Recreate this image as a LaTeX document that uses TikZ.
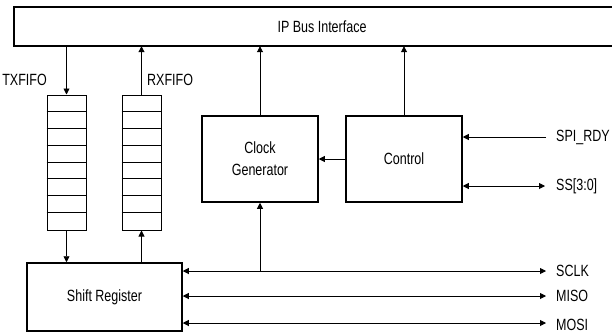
\documentclass[tikz,border=0pt]{standalone}
\usepackage{fontspec}
\setmainfont{Liberation Sans}
\usepackage{graphicx}
\usetikzlibrary{arrows.meta}
\newcommand{\tx}[1]{\scalebox{1}[1.3]{#1}}
\begin{document}
\begin{tikzpicture}[x=1pt,y=-1pt,
  font=\fontsize{12.5}{15}\selectfont,
  blk/.style={draw, line width=1.5pt, inner sep=0pt, align=center},
  fifo/.style={draw, line width=1pt, inner sep=0pt, minimum width=39pt, minimum height=135pt},
  sig/.style={line width=0.9pt, -{Triangle[length=6pt,width=6pt]}},
  sigb/.style={line width=0.9pt, {Triangle[length=6pt,width=6pt]}-{Triangle[length=6pt,width=6pt]}},
  lbl/.style={inner sep=0pt, anchor=west}]
\useasboundingbox (0,0) rectangle (612,333);

% IP bus interface (right edge runs off the picture)
\node[inner sep=0pt, minimum width=598pt, minimum height=39pt] (ip) at (313,26.5) {};
\node[inner sep=0pt] (iptext) at (322,27) {\tx{IP Bus Interface}};
\draw[line width=1.5pt] (ip.north east) -- (ip.north west) -- (ip.south west) -- (ip.south east);

% FIFOs
\node[fifo] (tx) at (66.5,162.5) {};
\node[fifo] (rx) at (141.5,162.5) {};
\foreach \k in {1,...,7}{
  \draw[line width=0.9pt] ([yshift=-\k*16.875pt]tx.north west) -- ([yshift=-\k*16.875pt]tx.north east);
  \draw[line width=0.9pt] ([yshift=-\k*16.875pt]rx.north west) -- ([yshift=-\k*16.875pt]rx.north east);
}
\node[inner sep=0pt, anchor=east] (txl) at (47,80) {\tx{TXFIFO}};
\node[inner sep=0pt, anchor=west] (rxl) at (147,80) {\tx{RXFIFO}};

% Blocks
\node[blk, minimum width=155pt, minimum height=68pt] (sr) at (104.5,297) {\tx{Shift Register}};
\node[blk, minimum width=116pt, minimum height=86pt] (clk) at (260,159) {\tx{Clock}\\[7pt]\tx{Generator}};
\node[blk, minimum width=116pt, minimum height=86pt] (ctl) at (404,159) {\tx{Control}};

% FIFO connections
\draw[sig] (tx.north |- ip.south) -- (tx.north);
\draw[sig] (tx.south) -- (tx.south |- sr.north);
\draw[sig] (rx.north) -- (rx.north |- ip.south);
\draw[sig] (rx.south |- sr.north) -- (rx.south);

% Clock / control
\draw[sig] (clk.north) -- (clk.north |- ip.south);
\draw[sig] (ctl.north) -- (ctl.north |- ip.south);
\draw[sig] (ctl.west) -- (clk.east);

% External signals
\coordinate (spi) at (546,137);
\coordinate (ss) at (545,186);
\coordinate (sclk) at (546,271);
\coordinate (miso) at (546,296);
\coordinate (mosi) at (546,323);
\node[lbl] (spil) at (556,137) {\tx{SPI\_RDY}};
\node[lbl] (ssl) at (556,186) {\tx{SS[3:0]}};
\node[lbl] (sclkl) at (556,271) {\tx{SCLK}};
\node[lbl] (misol) at (556,296) {\tx{MISO}};
\node[lbl] (mosil) at (556,325) {\tx{MOSI}};

\draw[sig] (spi) -- (spi -| ctl.east);
\draw[sigb] (ctl.east |- ss) -- (ss);
\draw[sigb] (sr.east |- sclk) -- (sclk);
\draw[sigb] (sr.east |- miso) -- (miso);
\draw[sigb] (sr.east |- mosi) -- (mosi);
\coordinate (tap) at (clk.south |- sclk);
\draw[sig] (tap) -- (clk.south);
\end{tikzpicture}
\end{document}
